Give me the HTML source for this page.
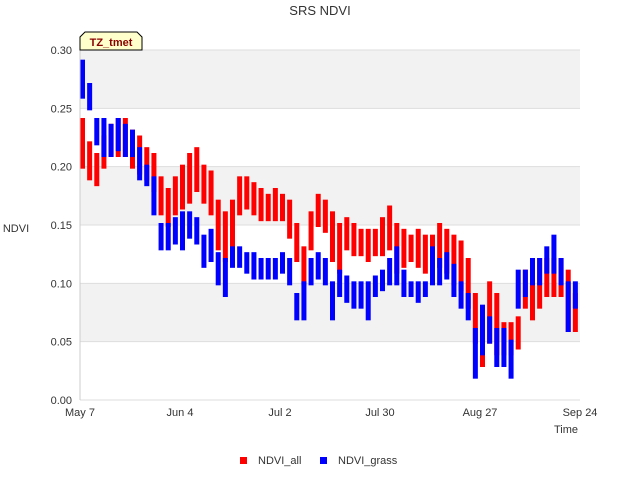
<!DOCTYPE html>
<html><head><meta charset="utf-8"><style>
body{margin:0;background:#fff;font-family:"Liberation Sans",sans-serif}
svg text{font-family:"Liberation Sans",sans-serif}
</style></head><body>
<svg id="c" width="640" height="480" xmlns="http://www.w3.org/2000/svg">
<text x="320" y="15" text-anchor="middle" font-size="13" fill="#333">SRS NDVI</text>
<g id="bands"></g>
<g id="marks"></g>
<line x1="80" y1="50" x2="80" y2="400" stroke="#ccc"/>
<g id="axes"></g>
<text x="16" y="232" text-anchor="middle" font-size="11" fill="#333">NDVI</text>
<text x="578" y="433" text-anchor="end" font-size="11" fill="#333">Time</text>
<g>
<path d="M80,50 L80,37 L85,32 L137,32 L142,37 L142,50 Z" fill="#ffffcc" stroke="#000"/>
<text x="111" y="46" text-anchor="middle" font-size="11" font-weight="bold" fill="#8b0000">TZ_tmet</text>
</g>
<g>
<g><rect x="240" y="457" width="7" height="7" fill="#f00"/><text x="258" y="464" font-size="11" fill="#333">NDVI_all</text></g>
<g><rect x="320" y="457" width="7" height="7" fill="#00f"/><text x="338" y="464" font-size="11" fill="#333">NDVI_grass</text></g>
</g>
</svg>
<script>
const xTickLabels=["May 7","Jun 4","Jul 2","Jul 30","Aug 27","Sep 24"];
const xTickDays=[0,28,56,84,112,140];
const yTicks=[0,0.05,0.10,0.15,0.20,0.25,0.30];
const days=[0,2,4,6,8,10,12,14,16,18,20,22,24,26,28,30,32,34,36,38,40,42,44,46,48,50,52,54,56,58,60,62,64,66,68,70,72,74,76,78,80,82,84,86,88,90,92,94,96,98,100,102,104,106,108,110,112,114,116,118,120,122,124,126,128,130,132,134,136,138];
const allLo=[.20,.19,.185,.20,.21,.21,.21,.20,.195,.19,.18,.16,.15,.16,.165,.17,.18,.17,.16,.13,.12,.13,.16,.165,.16,.155,.155,.155,.155,.14,.12,.10,.13,.15,.145,.12,.11,.13,.125,.125,.12,.125,.125,.13,.11,.115,.12,.115,.11,.11,.115,.11,.10,.095,.08,.05,.03,.05,.04,.04,.04,.045,.08,.07,.08,.09,.09,.09,.06,.06];
const allHi=[.24,.22,.21,.225,.235,.24,.24,.23,.225,.215,.21,.19,.18,.19,.20,.21,.215,.20,.195,.17,.16,.17,.19,.19,.185,.18,.175,.18,.175,.17,.15,.13,.16,.175,.17,.16,.15,.155,.15,.145,.145,.145,.155,.165,.15,.145,.14,.145,.14,.14,.15,.145,.14,.135,.12,.09,.07,.10,.09,.065,.065,.07,.11,.10,.12,.12,.12,.12,.11,.09];
const grassLo=[.26,.25,.22,.21,.21,.215,.21,.21,.19,.185,.16,.13,.13,.135,.13,.14,.135,.115,.12,.10,.09,.115,.115,.11,.105,.105,.105,.105,.11,.10,.07,.07,.10,.105,.10,.07,.09,.085,.08,.08,.07,.09,.095,.10,.10,.09,.09,.085,.09,.10,.10,.105,.09,.08,.07,.02,.04,.05,.03,.03,.02,.08,.09,.10,.10,.11,.11,.10,.06,.08];
const grassHi=[.29,.27,.24,.24,.235,.24,.235,.23,.215,.20,.19,.15,.15,.155,.16,.16,.155,.14,.145,.125,.12,.13,.13,.125,.125,.12,.12,.12,.125,.12,.09,.10,.12,.125,.12,.10,.11,.105,.10,.10,.10,.105,.11,.12,.13,.11,.10,.10,.10,.13,.12,.125,.115,.10,.09,.06,.08,.07,.06,.06,.05,.11,.11,.12,.12,.13,.14,.12,.10,.10];
const NS="http://www.w3.org/2000/svg";
const X0=80,X1=580,Y0=400,Y1=50;
const xs=d=>X0+d*(X1-X0)/140;
const ys=v=>Y0-v*(Y0-Y1)/0.30;
function mk(tag,attrs,parent){const e=document.createElementNS(NS,tag);for(const k in attrs)e.setAttribute(k,attrs[k]);parent.appendChild(e);return e;}
const bands=document.getElementById('bands'),marks=document.getElementById('marks'),axes=document.getElementById('axes');
for(let i=0;i<yTicks.length-1;i++){
  const r=mk('rect',{x:X0,y:ys(yTicks[i+1]),width:X1-X0,height:ys(yTicks[i])-ys(yTicks[i+1]),fill:(i%2===1)?'#f2f2f2':'#ffffff'},bands);
  
  
}
yTicks.forEach(v=>{
  const l=mk('line',{x1:X0,x2:X1,y1:ys(v),y2:ys(v),stroke:'#ddd'},bands);
  
  
  const t=mk('text',{x:72,y:ys(v)+4,'text-anchor':'end','font-size':11,fill:'#333'},axes);
  t.textContent=v.toFixed(2);
  
  
});
xTickDays.forEach((d,i)=>{
  const t=mk('text',{x:xs(d),y:416,'text-anchor':'middle','font-size':11,fill:'#333'},axes);
  t.textContent=xTickLabels[i];
  
  
});
function series(lo,hi,color,name){
  const g=mk('g',{},marks);
  
  
  days.forEach((d,i)=>{
    const y1=ys(hi[i]),y2=ys(lo[i]);
    const r=mk('rect',{x:xs(d),y:y1-2,width:5,height:Math.max(4,y2-y1+4),fill:color},g);
    
    
  });
}
series(allLo,allHi,'#f00','ndvi-all-series');
series(grassLo,grassHi,'#00f','ndvi-grass-series');
</script>
</body></html>
